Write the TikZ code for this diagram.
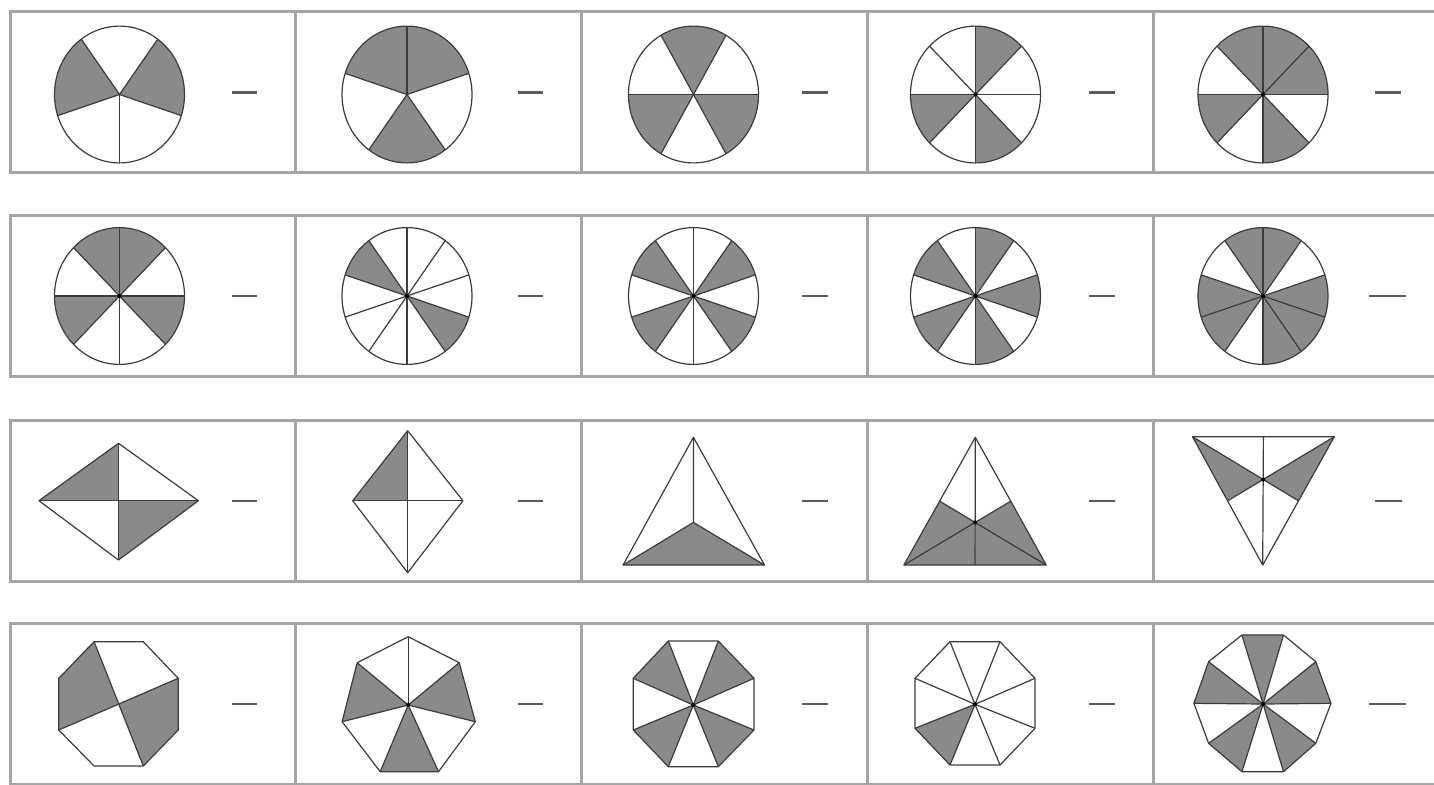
\documentclass[tikz,border=0pt]{standalone}
\usetikzlibrary{calc}
\definecolor{shadegray}{RGB}{138,138,138}
\definecolor{linegray}{RGB}{60,60,60}
\definecolor{boxgray}{RGB}{165,165,165}
\definecolor{dashgray}{RGB}{90,90,90}
\tikzset{
  piece/.style={fill=shadegray},
  edge/.style={draw=linegray, line width=0.6pt, line join=round},
  boxline/.style={draw=boxgray, line width=1.5pt},
  blank/.style={draw=dashgray, line width=1.2pt},
  hub/.style={fill=black}
}
\newcommand\piefig[4]{%
  \coordinate (#1) at #2;
  \foreach \a/\b in {#4} {\fill[piece] (#1) -- ++(\a:32.5pt and 34.2pt) arc[start angle=\a, end angle=\b, x radius=32.5pt, y radius=34.2pt] -- cycle;}
  \foreach \a in {#3} {\draw[edge] (#1) -- ++(\a:32.5pt and 34.2pt);}
  \draw[edge] (#1) ellipse[x radius=32.5pt, y radius=34.2pt];
}
\newcommand\hubdot[1]{\fill[hub] (#1) circle[radius=1pt];}
\begin{document}
\begin{tikzpicture}[x=0.5pt, y=-0.5pt]
\useasboundingbox (0,0) rectangle (1434,784);
\fill[white] (0,0) rectangle (1434,784);
\clip (0,0) rectangle (1434,784);

% ---------- boxes ----------
\foreach \t/\b in {11/172.5, 215/376, 420/581.5, 623.5/784.5} {
  \draw[boxline] (10,\t) rectangle (1450,\b);
  \foreach \x in {295.5, 581.5, 867.5, 1153} {\draw[boxline] (\x,\t) -- (\x,\b);}
}

% ---------- answer blanks ----------
\foreach \y in {92.3, 295.7, 500.7, 704} {
  \draw[blank] (231.5,\y) -- (257,\y);
  \draw[blank] (517.5,\y) -- (543,\y);
  \draw[blank] (802,\y) -- (828,\y);
  \draw[blank] (1089,\y) -- (1115,\y);
}
\draw[blank] (1375,92.3) -- (1401,92.3);
\draw[blank] (1369,295.7) -- (1406,295.7);
\draw[blank] (1375,500.7) -- (1402,500.7);
\draw[blank] (1369,704) -- (1406,704);

% ---------- row 1 ----------
\piefig{c11}{(119.5,94.5)}{270,342,54,126,198}{126/198,-18/54}
\piefig{c12}{(407,94.5)}{90,162,234,306,18}{90/162,18/90,234/306}
\piefig{c13}{(693.5,94.5)}{0,60,120,180,240,300}{60/120,180/240,300/360}
\piefig{c14}{(975.5,94.5)}{0,45,90,135,180,225,270,315}{45/90,180/225,270/315}
\hubdot{c14}
\piefig{c15}{(1263,94.5)}{0,45,90,135,180,225,270,315}{0/45,45/90,90/135,180/225,270/315}
\hubdot{c15}

% ---------- row 2 ----------
\piefig{c21}{(119.5,296)}{0,45,90,135,180,225,270,315}{45/90,90/135,180/225,315/360}
\hubdot{c21}
\piefig{c22}{(407,296)}{90,126,162,198,234,270,306,342,18,54}{126/162,306/342}
\hubdot{c22}
\piefig{c23}{(693.5,296)}{90,126,162,198,234,270,306,342,18,54}{126/162,18/54,198/234,306/342}
\hubdot{c23}
\piefig{c24}{(975.5,296)}{90,126,162,198,234,270,306,342,18,54}{54/90,126/162,198/234,270/306,342/378}
\hubdot{c24}
\piefig{c25}{(1263,296)}{90,126,162,198,234,270,306,342,18,54}{54/90,90/126,162/198,198/234,270/306,306/342,342/378}
\hubdot{c25}

% ---------- row 3 ----------
% square diamond
\coordinate (d1c) at (118.5,500.7);
\coordinate (d1l) at (39,500.7);
\coordinate (d1r) at (198.4,500.7);
\coordinate (d1t) at (118.5,443.3);
\coordinate (d1b) at (118.5,560);
\fill[piece] (d1l) -- (d1c) -- (d1t) -- cycle;
\fill[piece] (d1c) -- (d1r) -- (d1b) -- cycle;
\draw[edge] (d1l) -- (d1t) -- (d1r) -- (d1b) -- cycle;
\draw[edge] (d1l) -- (d1r) (d1t) -- (d1b);
% tall rhombus
\coordinate (d2c) at (407.7,500.7);
\coordinate (d2l) at (352.7,500.7);
\coordinate (d2r) at (462.9,500.7);
\coordinate (d2t) at (407.7,430.7);
\coordinate (d2b) at (407.7,572.7);
\fill[piece] (d2l) -- (d2c) -- (d2t) -- cycle;
\draw[edge] (d2l) -- (d2t) -- (d2r) -- (d2b) -- cycle;
\draw[edge] (d2l) -- (d2r) (d2t) -- (d2b);
% triangle, centroid split
\coordinate (t3a) at (693.4,437.3);
\coordinate (t3l) at (623.1,565);
\coordinate (t3r) at (764.5,565);
\coordinate (t3c) at (693.4,522.4);
\fill[piece] (t3l) -- (t3c) -- (t3r) -- cycle;
\draw[edge] (t3a) -- (t3l) -- (t3r) -- cycle;
\draw[edge] (t3a) -- (t3c) (t3l) -- (t3c) (t3r) -- (t3c);
% triangle with medians
\coordinate (t4a) at (975.3,437.3);
\coordinate (t4l) at (903.9,565);
\coordinate (t4r) at (1046.2,565);
\coordinate (t4c) at (975.1,522.4);
\coordinate (t4ml) at ($(t4a)!0.5!(t4l)$);
\coordinate (t4mr) at ($(t4a)!0.5!(t4r)$);
\coordinate (t4mb) at ($(t4l)!0.5!(t4r)$);
\fill[piece] (t4l) -- (t4ml) -- (t4c) -- (t4mr) -- (t4r) -- cycle;
\draw[edge] (t4a) -- (t4l) -- (t4r) -- cycle;
\draw[edge] (t4a) -- (t4mb) (t4l) -- (t4mr) (t4r) -- (t4ml);
\hubdot{t4c}
% inverted triangle with medians
\coordinate (t5l) at (1192.5,436.7);
\coordinate (t5r) at (1334.3,436.7);
\coordinate (t5b) at (1262.7,565);
\coordinate (t5c) at (1263.2,479.5);
\coordinate (t5ml) at ($(t5l)!0.5!(t5b)$);
\coordinate (t5mr) at ($(t5r)!0.5!(t5b)$);
\coordinate (t5mt) at ($(t5l)!0.5!(t5r)$);
\fill[piece] (t5l) -- (t5c) -- (t5ml) -- cycle;
\fill[piece] (t5r) -- (t5c) -- (t5mr) -- cycle;
\draw[edge] (t5l) -- (t5r) -- (t5b) -- cycle;
\draw[edge] (t5b) -- (t5mt) (t5l) -- (t5mr) (t5r) -- (t5ml);
\hubdot{t5c}

% ---------- row 4 ----------
% octagon in four parts
\coordinate (o1c) at (118.5,704);
\coordinate (o1v1) at (94.1,641.7);
\coordinate (o1v2) at (143.3,641.7);
\coordinate (o1v3) at (178.2,678.3);
\coordinate (o1v4) at (178.2,730);
\coordinate (o1v5) at (143.3,766);
\coordinate (o1v6) at (94.1,766);
\coordinate (o1v7) at (58.8,730);
\coordinate (o1v8) at (58.8,678.3);
\fill[piece] (o1c) -- (o1v1) -- (o1v8) -- (o1v7) -- cycle;
\fill[piece] (o1c) -- (o1v3) -- (o1v4) -- (o1v5) -- cycle;
\draw[edge] (o1v1) -- (o1v2) -- (o1v3) -- (o1v4) -- (o1v5) -- (o1v6) -- (o1v7) -- (o1v8) -- cycle;
\draw[edge] (o1v1) -- (o1v5) (o1v3) -- (o1v7);
% heptagon
\coordinate (h2c) at (408.2,705);
\coordinate (h2v1) at (408.2,636.7);
\coordinate (h2v2) at (459.2,662.7);
\coordinate (h2v3) at (475.3,721.7);
\coordinate (h2v4) at (438.5,771.7);
\coordinate (h2v5) at (380.2,771.7);
\coordinate (h2v6) at (342.1,721.7);
\coordinate (h2v7) at (357.2,662.7);
\fill[piece] (h2c) -- (h2v2) -- (h2v3) -- cycle;
\fill[piece] (h2c) -- (h2v4) -- (h2v5) -- cycle;
\fill[piece] (h2c) -- (h2v6) -- (h2v7) -- cycle;
\draw[edge] (h2v1) -- (h2v2) -- (h2v3) -- (h2v4) -- (h2v5) -- (h2v6) -- (h2v7) -- cycle;
\foreach \i in {1,...,7} {\draw[edge] (h2c) -- (h2v\i);}
\hubdot{h2c}
% octagon, 4 of 8
\coordinate (o3c) at (693.3,705);
\coordinate (o3v1) at (668.3,641);
\coordinate (o3v2) at (718.3,641);
\coordinate (o3v3) at (754,678.3);
\coordinate (o3v4) at (754,730);
\coordinate (o3v5) at (718.3,766.7);
\coordinate (o3v6) at (668.3,766.7);
\coordinate (o3v7) at (633.3,730);
\coordinate (o3v8) at (633.3,678.3);
\fill[piece] (o3c) -- (o3v8) -- (o3v1) -- cycle;
\fill[piece] (o3c) -- (o3v2) -- (o3v3) -- cycle;
\fill[piece] (o3c) -- (o3v4) -- (o3v5) -- cycle;
\fill[piece] (o3c) -- (o3v6) -- (o3v7) -- cycle;
\draw[edge] (o3v1) -- (o3v2) -- (o3v3) -- (o3v4) -- (o3v5) -- (o3v6) -- (o3v7) -- (o3v8) -- cycle;
\foreach \i in {1,...,8} {\draw[edge] (o3c) -- (o3v\i);}
\hubdot{o3c}
% octagon, 1 of 8
\coordinate (o4c) at (975,704.3);
\coordinate (o4v1) at (950,641.7);
\coordinate (o4v2) at (1000,641.7);
\coordinate (o4v3) at (1035,678.3);
\coordinate (o4v4) at (1035,728.3);
\coordinate (o4v5) at (1000,765);
\coordinate (o4v6) at (950,765);
\coordinate (o4v7) at (915,728.3);
\coordinate (o4v8) at (915,678.3);
\fill[piece] (o4c) -- (o4v6) -- (o4v7) -- cycle;
\draw[edge] (o4v1) -- (o4v2) -- (o4v3) -- (o4v4) -- (o4v5) -- (o4v6) -- (o4v7) -- (o4v8) -- cycle;
\foreach \i in {1,...,8} {\draw[edge] (o4c) -- (o4v\i);}
\hubdot{o4c}
% decagon, 5 of 10
\coordinate (g5c) at (1263.1,704);
\coordinate (g5v1) at (1241.9,635);
\coordinate (g5v2) at (1283.5,635);
\coordinate (g5v3) at (1315.8,661.7);
\coordinate (g5v4) at (1331,703.3);
\coordinate (g5v5) at (1315.8,743.3);
\coordinate (g5v6) at (1283.5,771.7);
\coordinate (g5v7) at (1241.9,771.7);
\coordinate (g5v8) at (1208.6,743.3);
\coordinate (g5v9) at (1193.9,703.3);
\coordinate (g5v10) at (1208.6,661.7);
\fill[piece] (g5c) -- (g5v1) -- (g5v2) -- cycle;
\fill[piece] (g5c) -- (g5v3) -- (g5v4) -- cycle;
\fill[piece] (g5c) -- (g5v5) -- (g5v6) -- cycle;
\fill[piece] (g5c) -- (g5v7) -- (g5v8) -- cycle;
\fill[piece] (g5c) -- (g5v9) -- (g5v10) -- cycle;
\draw[edge] (g5v1) -- (g5v2) -- (g5v3) -- (g5v4) -- (g5v5) -- (g5v6) -- (g5v7) -- (g5v8) -- (g5v9) -- (g5v10) -- cycle;
\foreach \i in {1,...,10} {\draw[edge] (g5c) -- (g5v\i);}
\hubdot{g5c}
\end{tikzpicture}
\end{document}
